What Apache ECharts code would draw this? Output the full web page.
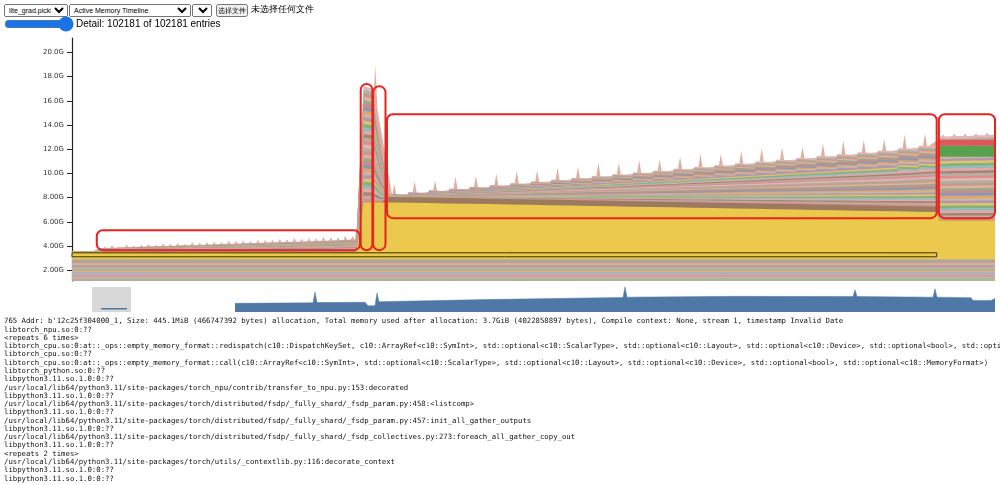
<!DOCTYPE html>
<html><head><meta charset="utf-8">
<script src="https://cdn.jsdelivr.net/npm/echarts@6/dist/echarts.min.js"></script>
<style>
html,body{margin:0;padding:0;background:#fff;width:1000px;height:485px;overflow:hidden;}
#chart{position:absolute;left:0;top:0;width:1000px;height:485px;}
#hdr{position:absolute;left:4px;top:4px;z-index:5;font-family:Arial,"Liberation Sans",sans-serif;font-size:8.5px;white-space:nowrap;}
#hdr select,#hdr button{font-family:Arial,"Liberation Sans",sans-serif;font-size:7px;height:13px;padding:0;margin:0;vertical-align:top;color:#000;}
#row2{position:absolute;left:4px;top:18px;z-index:5;font-family:Arial,"Liberation Sans",sans-serif;font-size:10px;display:flex;align-items:center;}
#row2 input{width:70px;height:10px;margin:0 2px 0 0;accent-color:#1a73e8;}
</style></head><body>
<div id="chart"></div>
<div id="hdr"><select style="width:64px"><option>lite_grad.pickle</option></select><select style="width:122px;margin-left:1px"><option>Active Memory Timeline</option></select><select style="width:20px;margin-left:1px"><option>0</option></select> <button style="margin-left:2px">选择文件</button> <span>未选择任何文件</span></div>
<div id="row2"><input type="range" min="0" max="100" value="100"><span>Detail: 102181 of 102181 entries</span></div>
<script>
// ---------- data ----------
const X1 = [0,1,2,3,4,5,6,7,8,9,10,11,12,13,14,15,16,17,18,19,20,21,22,23,24,25,26,27,28,29,30,31,32,33,34,35,36,37,38,39];
const XP = [40,41.2,42.4];
const X3 = [43.4,46.0,46.2,48.8,49.0,51.6,51.8,54.4,54.6,57.2,57.4,60.0,60.2,62.8,63.0,65.6,65.8,68.4,68.6,71.2,71.4,74.0,74.2,76.8,77.0,79.6,79.8,82.4,82.6,85.2,85.4,88.0,88.2,90.8,91.0,93.6,93.8,96.4,96.6,99.2,99.4,102.0,102.2,104.8,105.0,107.6,107.8,110.4,110.6,113.2,113.4,116.0,116.2,118.6];
const X4 = [119.0,120.0,121.0,122.0,123.0,124.0,125.0,126.6];

const yellowTop1 = [3.5,3.5,3.5,3.5,3.5,3.5,3.5,3.5,3.5,3.5,3.5,3.5,3.5,3.5,3.5,3.5,3.5,3.5,3.5,3.5,3.5,3.5,3.5,3.5,3.5,3.5,3.5,3.5,3.5,3.5,3.5,3.5,3.5,3.5,3.5,3.5,3.5,3.5,3.5,3.5];
const yellowTopP = [7.6,7.6,7.6];
const yellowTop3 = [7.60,7.58,7.57,7.55,7.54,7.52,7.51,7.49,7.48,7.46,7.45,7.43,7.42,7.40,7.39,7.37,7.36,7.34,7.33,7.31,7.30,7.28,7.27,7.25,7.24,7.22,7.21,7.19,7.18,7.16,7.15,7.13,7.12,7.10,7.09,7.07,7.06,7.04,7.03,7.01,7.00,6.98,6.97,6.95,6.94,6.92,6.91,6.89,6.88,6.86,6.85,6.83,6.82,6.80];
const yellowTop4 = [6.1,6.1,6.1,6.1,6.1,6.1,6.1,6.1];

const brown1 = [0,0,0,0,0,0,0,0,0,0,0,0,0,0,0,0,0,0,0,0,0,0,0,0,0,0,0,0,0,0,0,0,0,0,0,0,0,0,0,0];
const brownP = [0,0,0];
const brown3 = [0.45,0.45,0.45,0.45,0.45,0.45,0.45,0.45,0.45,0.45,0.45,0.45,0.45,0.45,0.45,0.45,0.45,0.45,0.45,0.45,0.45,0.45,0.45,0.45,0.45,0.45,0.45,0.45,0.45,0.45,0.45,0.45,0.45,0.45,0.45,0.45,0.45,0.45,0.45,0.45,0.45,0.45,0.45,0.45,0.45,0.45,0.45,0.45,0.45,0.45,0.45,0.45,0.45,0.45];
const brown4 = [0,0,0,0,0,0,0,0];

const stripeTop1 = [3.55,3.55,3.56,3.58,3.82,3.84,3.86,3.88,3.90,3.92,3.94,3.96,3.98,4.00,4.02,4.04,4.06,4.08,4.10,4.12,4.14,4.16,4.18,4.20,4.22,4.24,4.26,4.28,4.30,4.32,4.34,4.36,4.38,4.40,4.42,4.44,4.47,4.50,4.53,4.56];
const stripeTopP = [17.2,17.0,12.2];
const stripeTop3 = [8.30,8.22,8.45,8.37,8.60,8.52,8.75,8.67,8.90,8.82,9.05,8.97,9.20,9.12,9.35,9.27,9.50,9.42,9.65,9.57,9.80,9.72,9.95,9.87,10.10,10.02,10.25,10.17,10.40,10.32,10.55,10.47,10.70,10.62,10.85,10.77,11.00,10.92,11.15,11.07,11.30,11.22,11.45,11.37,11.60,11.52,11.75,11.67,11.90,11.82,12.10,12.02,12.30,12.22];
const stripeTop4 = [13.05,13.05,13.1,13.1,13.1,13.15,13.15,13.2];

const spikeX = [4.5,5.5,6.5,7.5,8.5,9.5,10.5,11.5,12.5,13.5,14.5,15.5,16.5,17.5,18.5,19.5,20.5,21.5,22.5,23.5,24.5,25.5,26.5,27.5,28.5,29.5,30.5,31.5,32.5,33.5,34.5,35.5,36.5,37.5,38.5,
  41.6,
  44.2,47.0,49.8,52.6,55.4,58.2,61.0,63.8,66.6,69.4,72.2,75.0,77.8,80.6,83.4,86.2,89.0,91.8,94.6,97.4,100.2,103.0,105.8,108.6,111.4,114.2,117.0,
  119.5,121.0,122.5,124.0,125.5];
const spikeH = [0.2,0.3,0.15,0.3,0.2,0.25,0.3,0.2,0.3,0.25,0.3,0.2,0.35,0.25,0.3,0.3,0.25,0.35,0.3,0.3,0.25,0.35,0.3,0.3,0.35,0.3,0.4,0.3,0.35,0.3,0.4,0.35,0.3,0.4,0.35,
  3.6,
  0.9,1.0,0.9,1.1,1.0,1.0,1.1,1.0,1.1,1.0,1.2,1.0,1.1,1.0,1.1,1.2,1.0,1.1,1.2,1.1,1.0,1.1,1.2,1.1,1.0,1.2,1.1,
  0.25,0.25,0.3,0.25,0.3];

const TICKS = [2,4,6,8,10,12,14,16,18,20];
const BASE_BANDS = [1.22,1.34,1.46,1.58,1.7,1.82,1.94,2.06,2.18,2.3,2.42,2.54,2.66,2.78,2.9];
const R4_BANDS = [[12.29,12.78,'#e15759'],[11.38,12.29,'#59a14f']];
const BOX_OUTLINE = [0,3.1,118.6,3.43];

const overviewPts = [[0,3.2],[7.8,3.4],[8.0,7.4],[8.2,3.5],[13.0,3.6],[13.3,2.3],[14.0,2.3],[14.2,7.0],[14.4,3.8],[25,4.6],[38.8,5.4],[39.0,9.3],[39.2,5.5],[50,5.8],[61.8,5.7],[62.0,8.2],[62.2,5.7],[69.8,5.5],[70.0,8.6],[70.2,5.5],[73.6,5.3],[73.8,4.3],[75.6,4.3],[75.8,5.0],[76,5.0]];

const TEXT_LINES = [
"765 Addr: b'12c25f304000_1, Size: 445.1MiB (466747392 bytes) allocation, Total memory used after allocation: 3.7GiB (4022858897 bytes), Compile context: None, stream 1, timestamp Invalid Date",
"libtorch_npu.so:0:??",
"<repeats 6 times>",
"libtorch_cpu.so:0:at::_ops::empty_memory_format::redispatch(c10::DispatchKeySet, c10::ArrayRef<c10::SymInt>, std::optional<c10::ScalarType>, std::optional<c10::Layout>, std::optional<c10::Device>, std::optional<bool>, std::optional<c10::MemoryFormat>)",
"libtorch_cpu.so:0:??",
"libtorch_cpu.so:0:at::_ops::empty_memory_format::call(c10::ArrayRef<c10::SymInt>, std::optional<c10::ScalarType>, std::optional<c10::Layout>, std::optional<c10::Device>, std::optional<bool>, std::optional<c10::MemoryFormat>)",
"libtorch_python.so:0:??",
"libpython3.11.so.1.0:0:??",
"/usr/local/lib64/python3.11/site-packages/torch_npu/contrib/transfer_to_npu.py:153:decorated",
"libpython3.11.so.1.0:0:??",
"/usr/local/lib64/python3.11/site-packages/torch/distributed/fsdp/_fully_shard/_fsdp_param.py:458:<listcomp>",
"libpython3.11.so.1.0:0:??",
"/usr/local/lib64/python3.11/site-packages/torch/distributed/fsdp/_fully_shard/_fsdp_param.py:457:init_all_gather_outputs",
"libpython3.11.so.1.0:0:??",
"/usr/local/lib64/python3.11/site-packages/torch/distributed/fsdp/_fully_shard/_fsdp_collectives.py:273:foreach_all_gather_copy_out",
"libpython3.11.so.1.0:0:??",
"<repeats 2 times>",
"/usr/local/lib64/python3.11/site-packages/torch/utils/_contextlib.py:116:decorate_context",
"libpython3.11.so.1.0:0:??",
"libpython3.11.so.1.0:0:??"
];

const RED_BOXES = [[3.4,3.65,39.5,5.3],[39.6,3.65,41.2,17.4],[41.3,3.65,43.0,17.2],[43.2,6.3,118.6,14.9],[118.9,6.3,126.6,14.9]];

// ---------- build ----------
const X = [...X1,...XP,...X3,...X4];
const yellowTop = [...yellowTop1,...yellowTopP,...yellowTop3,...yellowTop4];
const brown = [...brown1,...brownP,...brown3,...brown4];
const stripeTop = [...stripeTop1,...stripeTopP,...stripeTop3,...stripeTop4];
const brownTop = yellowTop.map((v,i)=>v+brown[i]);

function topAt(x){
  for(let i=0;i<X.length-1;i++){ if(x>=X[i]&&x<=X[i+1]){const t=(x-X[i])/(X[i+1]-X[i]);return stripeTop[i]+t*(stripeTop[i+1]-stripeTop[i]);} }
  return stripeTop[stripeTop.length-1];
}
const spikeData=[];
spikeX.forEach((x,i)=>{const b=topAt(x)-0.08;spikeData.push([x-0.3,b],[x,b+spikeH[i]],[x+0.3,b]);});

const stripeColors=['#d9908d','#b8aea6','#a48670','#e4a7ab','#93bdb9','#86b07c','#dcc56c','#b497af','#c9b7a6','#e3a46b','#7f9cbf','#d08a8a','#9aaa8c','#e0b0a0','#c79a8a','#aab4a0','#e8b4b8'];
const baseColors=['#c9a0a0','#a9b79a','#d5b08d','#b5a6b8','#dca0a4','#9fb3c4','#c8bc8f','#d09a80','#a8c0a6','#c4a7a0','#b99ca8','#d8b891','#e29a9a','#8fb09a'];

const area=(name,data,color,z)=>({name,type:'line',data,showSymbol:false,symbol:'none',silent:true,
  lineStyle:{width:0},areaStyle:{color,opacity:1,origin:'start'},xAxisIndex:0,yAxisIndex:0,z});

const series=[];
series.push(area('spikes',spikeData,'#dfb0a0',2));
const K=34;
for(let k=K-1;k>=0;k--){
  series.push(area('s'+k,X.map((x,i)=>[x,brownTop[i]+(stripeTop[i]-brownTop[i])*(k+1)/K]),stripeColors[k%stripeColors.length],2));
}
series.push(area('brown',X.map((x,i)=>[x,brownTop[i]]),'#9c7a60',2));
series.push(area('yellow',X.map((x,i)=>[x,yellowTop[i]]),'#ebc94c',2));
for(let b=BASE_BANDS.length-1;b>=0;b--){
  series.push(area('base'+b,[[0,BASE_BANDS[b]],[126.6,BASE_BANDS[b]]],baseColors[b%baseColors.length],3));
}
series.push({name:'overview',type:'line',data:overviewPts,xAxisIndex:1,yAxisIndex:1,showSymbol:false,symbol:'none',silent:true,
  lineStyle:{width:0.5,color:'#4e79a7'},areaStyle:{color:'#4e79a7',opacity:1}});

const textG = TEXT_LINES.map((t,i)=>({type:'text',left:4,top:318+8.27*i,silent:true,
  style:{text:t,fontFamily:'"DejaVu Sans Mono",monospace',fontSize:7.3,fill:'#111'}}));

const chart=echarts.init(document.getElementById('chart'),null,{renderer:'canvas'});
chart.setOption({
  animation:false,
  grid:[{left:72,right:5,top:38,bottom:204},{left:235,right:5,top:285,bottom:173}],
  xAxis:[{type:'value',min:0,max:126.6,show:false,gridIndex:0},{type:'value',min:0,max:76,show:false,gridIndex:1}],
  yAxis:[{type:'value',min:1.1,max:21.2,gridIndex:0,splitLine:{show:false},
     axisLine:{show:true,lineStyle:{color:'#222',width:1.2}},
     axisTick:{show:true,length:5,lineStyle:{color:'#222'},customValues:TICKS},
     axisLabel:{customValues:TICKS,fontSize:7,color:'#333',fontFamily:'"DejaVu Sans",sans-serif',margin:8,
       formatter:v=>(v<10?v.toFixed(2):v.toFixed(1))+'G'}},
    {type:'value',min:0,max:10,show:false,gridIndex:1}],
  series
});
const rectFromData=(x0,y0,x1,y1)=>{
  const p0=chart.convertToPixel({gridIndex:0},[x0,y1]);
  const p1=chart.convertToPixel({gridIndex:0},[x1,y0]);
  return {x:p0[0],y:p0[1],width:p1[0]-p0[0],height:p1[1]-p0[1]};
};
const extra=[];
R4_BANDS.forEach(b=>extra.push({type:'rect',silent:true,z:50,shape:rectFromData(X4[0],b[0],X4[X4.length-1],b[1]),style:{fill:b[2]}}));
extra.push({type:'rect',silent:true,z:50,shape:rectFromData(...BOX_OUTLINE),style:{fill:'rgba(0,0,0,0)',stroke:'#3a3000',lineWidth:1}});
RED_BOXES.forEach(b=>extra.push({type:'rect',silent:true,z:100,shape:Object.assign(rectFromData(...b),{r:6}),
    style:{fill:'rgba(0,0,0,0)',stroke:'#e8231f',lineWidth:2}}));
chart.setOption({graphic:[
    {type:'rect',shape:{x:92,y:287,width:39,height:25},style:{fill:'#d8d8d8'},silent:true},
    {type:'rect',shape:{x:101,y:308,width:26,height:1.5},style:{fill:'#4e79a7'},silent:true},
    ...textG,...extra]});
</script>
</body></html>
